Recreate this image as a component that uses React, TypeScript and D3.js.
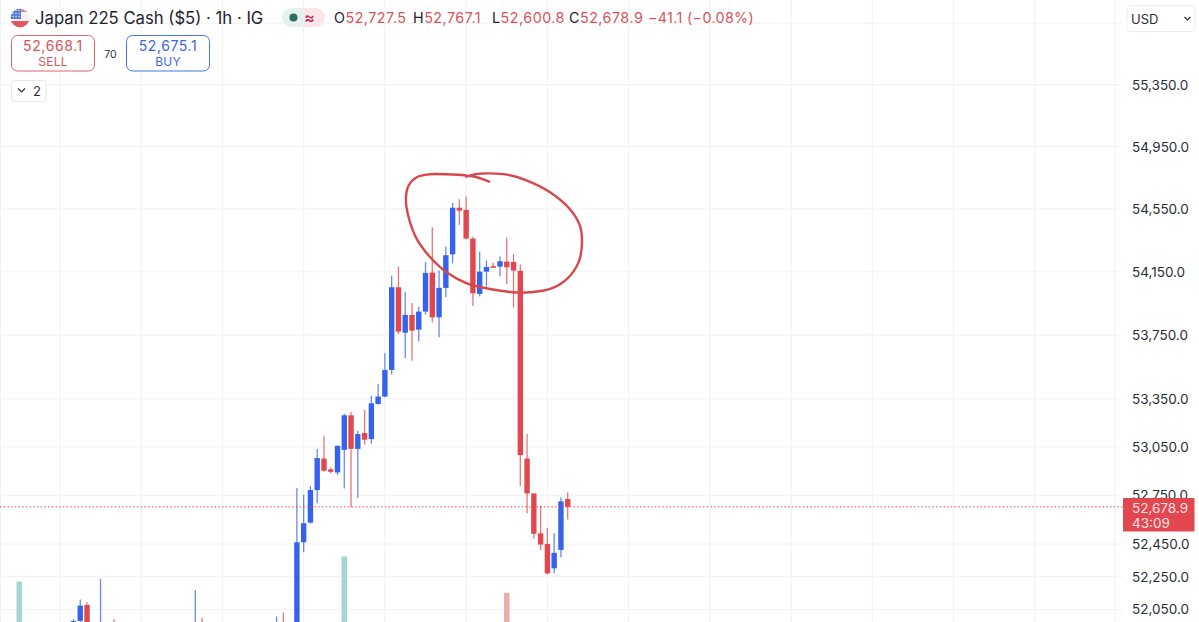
import React from "react";
import * as d3 from "d3";

const W = 1199, H = 622;
const FONT = "Inter, 'Noto Sans', sans-serif";
const RED = "#e2474f", BLUE = "#3563ee", GRID = "#f1f1f2";

const priceTicks = [55750, 55350, 54950, 54550, 54150, 53750, 53350, 53050, 52750, 52450, 52250, 52050];
const tickLabels = ["", "55,350.0", "54,950.0", "54,550.0", "54,150.0", "53,750.0", "53,350.0", "53,050.0", "52,750.0", "52,450.0", "52,250.0", "52,050.0"];
const lastPrice = 52678.9;

const barIndex = [8, 9, 10, 12, 14, 26, 27, 38, 39,
  41, 42, 43, 44, 45, 46, 47, 48, 49, 50, 51, 52, 53, 54, 55, 56, 57, 58, 59, 60, 61, 62, 63, 64, 65, 66, 67, 68, 69, 70, 71, 72, 73, 74, 75, 76, 77, 78, 79, 80, 81];
const opens = [51900, 51980, 52077, 51850, 51900, 51850, 51900, 51850, 51900,
  51856, 52461, 52582, 52783, 52978, 52911, 52892, 53032, 53247, 53038, 53137, 53099, 53318, 53364, 53531, 54052, 53765, 53877, 53784, 53898, 54145, 53862, 54048, 54261, 54558, 54544, 54361, 54010, 54151, 54185, 54183, 54215, 54213, 54156, 52978, 52762, 52516, 52451, 52301, 52414, 52727.5];
const highs = [51990, 52110, 52094, 52236, 51990, 52169, 51997, 52007, 52031,
  52796, 52754, 52808, 53038, 53120, 52923, 53060, 53257, 53268, 53151, 53281, 53368, 53443, 53635, 54126, 54183, 54023, 53953, 53930, 54213, 54433, 54158, 54310, 54589, 54612, 54629, 54373, 54278, 54221, 54208, 54247, 54366, 54264, 54196, 53130, 52762, 52687, 52550, 52516, 52738, 52767.1];
const lows = [51880, 51950, 51900, 51800, 51820, 51800, 51820, 51800, 51820,
  51820, 52399, 52575, 52701, 52896, 52886, 52876, 52793, 52676, 52734, 53064, 53071, 53315, 53360, 53502, 53757, 53606, 53589, 53709, 53879, 53830, 53736, 53989, 54204, 54448, 54355, 53934, 53993, 54056, 54180, 54122, 54073, 53924, 52806, 52639, 52482, 52414, 52265, 52273, 52369, 52600.8];
const closes = [51979, 52073, 51950, 51900, 51850, 51900, 51850, 51900, 51850,
  52461, 52578, 52783, 52981, 52903, 52896, 53057, 53247, 53038, 53130, 53095, 53322, 53364, 53531, 54052, 53772, 53877, 53778, 53898, 54143, 53862, 54048, 54255, 54558, 54539, 54361, 54014, 54151, 54181, 54181, 54217, 54179, 54158, 52999, 52762, 52513, 52447, 52270, 52396, 52713, 52678.9];

const volIndex = [0, 48, 72];
const volValues = [56, 74, 48];
const volUp = [true, true, false];

const gridBars = [6, 18, 30, 42, 54, 66, 78, 90, 102, 114, 126, 138, 150];

// hand-drawn ring, as [bar, price]
const ringBars = [69.4, 67.6, 66.0, 63.1, 60.7, 58.7, 57.5, 57.1, 57.5, 58.7, 60.7, 63.1, 66.1, 69.5, 73.0, 75.4, 78.4, 80.9, 82.6, 83.1, 82.8, 81.3, 78.4, 75.0, 72.0, 69.5, 67.6, 66.0];
const ringPrices = [54725, 54753, 54764, 54772, 54772, 54753, 54700, 54614, 54497, 54359, 54242, 54147, 54077, 54041, 54020, 54020, 54041, 54105, 54210, 54327, 54444, 54550, 54657, 54732, 54770, 54778, 54775, 54757];

const x = d3.scaleLinear().domain([0, 81]).range([19.3, 567.7]);
const y = d3.scaleLog().domain([52050, 55350]).range([609.4, 84.7]);
const yVol = d3.scaleLinear().domain([0, 100]).range([660, 520]);

const ringLine = d3.line<number>()
  .x((_, i) => x(ringBars[i]))
  .y((_, i) => y(ringPrices[i]))
  .curve(d3.curveCatmullRom.alpha(0.5));

function Flag() {
  return (
    <g>
      <defs>
        <clipPath id="flagClip"><circle cx={20} cy={18} r={9.3} /></clipPath>
      </defs>
      <g clipPath="url(#flagClip)">
        <rect x={10} y={8} width={20} height={20} fill="#f3f3f5" />
        <rect x={10} y={21} width={20} height={7} fill="#e2575a" />
        <rect x={10} y={8} width={20} height={4} fill="#e2878a" />
        <rect x={10} y={8} width={11} height={11} fill="#5a7ccf" />
        {d3.range(3).flatMap((r) => d3.range(3).map((c) => (
          <circle key={`${r}${c}`} cx={13 + c * 3} cy={10.5 + r * 3} r={0.7} fill="#e9edf8" />
        )))}
      </g>
    </g>
  );
}

export default function App() {
  const axisX = 1115;
  const textBase = { fontFamily: FONT };
  const ohlc: [string, string, number][] = [
    ["O", "52,727.5", 334],
    ["H", "52,767.1", 413],
    ["L", "52,600.8", 492],
    ["C", "52,678.9", 569],
  ];
  return (
    <svg width={W} height={H} viewBox={`0 0 ${W} ${H}`}
      style={{ position: "absolute", left: 0, top: 0, display: "block", background: "#fff" }}>
      {/* grid */}
      {priceTicks.map((p) => (
        <line key={p} x1={0} x2={axisX + 7} y1={y(p)} y2={y(p)} stroke={GRID} strokeWidth={1} />
      ))}
      {gridBars.map((b) => (
        <line key={b} x1={x(b)} x2={x(b)} y1={0} y2={H} stroke={GRID} strokeWidth={1} />
      ))}
      <line x1={axisX} x2={axisX} y1={0} y2={H} stroke="#eef0f2" strokeWidth={1} />
      <line x1={0.5} x2={0.5} y1={0} y2={H} stroke={GRID} strokeWidth={1} />

      {/* volume */}
      {volIndex.map((b, i) => (
        <rect key={b} x={x(b) - 2.8} width={5.6} y={yVol(volValues[i])} height={yVol(0) - yVol(volValues[i])}
          fill={volUp[i] ? "#a5d6cf" : "#eeadad"} />
      ))}

      {/* candles */}
      {barIndex.map((b, i) => {
        const up = closes[i] >= opens[i];
        const c = up ? BLUE : RED;
        const top = y(Math.max(opens[i], closes[i]));
        const bot = y(Math.min(opens[i], closes[i]));
        return (
          <g key={b}>
            <line x1={x(b)} x2={x(b)} y1={y(highs[i])} y2={y(lows[i])} stroke={c} strokeOpacity={0.75} strokeWidth={1.3} />
            <rect x={x(b) - 2.7} width={5.4} y={top} height={Math.max(1.6, bot - top)} fill={c} />
          </g>
        );
      })}

      {/* last price line */}
      <line x1={0} x2={1123} y1={y(lastPrice)} y2={y(lastPrice)} stroke={RED} strokeWidth={1} strokeDasharray="1.5 2.2" />

      {/* ring */}
      <path d={ringLine(ringBars) ?? ""} fill="none" stroke="#d9474c" strokeWidth={2.4} strokeLinecap="round" strokeLinejoin="round" />

      {/* axis labels */}
      {priceTicks.map((p, i) => (
        tickLabels[i] ? (
          <text key={p} x={1132} y={y(p) + 5} fontSize={13.5} fill="#2a2e39" style={textBase}>{tickLabels[i]}</text>
        ) : null
      ))}
      <rect x={1123} y={498} width={71.5} height={33.5} rx={1} fill={RED} />
      <text x={1132} y={512.5} fontSize={13.5} fill="#ffe3e4" style={textBase}>52,678.9</text>
      <text x={1132} y={527.5} fontSize={13.5} fill="#ffe3e4" style={textBase}>43:09</text>

      {/* USD selector */}
      <rect x={1127} y={5.5} width={68} height={26} rx={4} fill="#fff" stroke="#eceef1" />
      <text x={1131} y={24} fontSize={13} fill="#2a2e39" style={textBase}>USD</text>
      <path d="M1184.5 17 L1187.5 20 L1190.5 17" fill="none" stroke="#2a2e39" strokeWidth={1.2} />

      {/* header */}
      <Flag />
      <text x={35} y={23.5} fontSize={16.7} fill="#1e222d" style={textBase}>Japan 225 Cash ($5) · 1h · IG</text>
      <rect x={282} y={8} width={43} height={19} rx={9.5} fill="#e6f1ee" />
      <path d="M304 8 H315.5 A9.5 9.5 0 0 1 315.5 27 H304 Z" fill="#fbe4ea" />
      <circle cx={293.5} cy={17.5} r={4} fill="#2f6f5e" />
      <text x={309.5} y={22.5} fontSize={15.5} fontWeight={600} textAnchor="middle" fill="#a8325a" style={textBase}>≈</text>
      {ohlc.map(([k, v, px]) => (
        <text key={k} x={px} y={23} fontSize={14.3} letterSpacing={0.5} style={textBase}>
          <tspan fill="#1e222d">{k}</tspan>
          <tspan fill="#d9535a">{v}</tspan>
        </text>
      ))}
      <text x={648} y={23} fontSize={14.3} letterSpacing={0.35} fill="#d9535a" style={textBase}>−41.1 (−0.08%)</text>

      {/* buy / sell */}
      <rect x={11.5} y={35.5} width={83} height={35.5} rx={6} fill="#fff" stroke="#e0636a" />
      <text x={53} y={51} fontSize={14} letterSpacing={0.6} textAnchor="middle" fill="#d9535a" style={textBase}>52,668.1</text>
      <text x={53} y={65.5} fontSize={12} letterSpacing={0.2} textAnchor="middle" fill="#d9535a" style={textBase}>SELL</text>
      <text x={110.5} y={58} fontSize={10.5} textAnchor="middle" fill="#2a2e39" style={textBase}>70</text>
      <rect x={126.5} y={35.5} width={83} height={35.5} rx={6} fill="#fff" stroke="#4a72ea" />
      <text x={168} y={51} fontSize={14} letterSpacing={0.6} textAnchor="middle" fill="#3f66e0" style={textBase}>52,675.1</text>
      <text x={168} y={65.5} fontSize={12} letterSpacing={0.2} textAnchor="middle" fill="#3f66e0" style={textBase}>BUY</text>
      <rect x={11.5} y={80.5} width={34.5} height={21} rx={3} fill="#fff" stroke="#e3e5e8" />
      <path d="M18 88.5 L21.5 92 L25 88.5" fill="none" stroke="#2a2e39" strokeWidth={1.2} />
      <text x={33} y={96} fontSize={13} fill="#2a2e39" style={textBase}>2</text>
    </svg>
  );
}
